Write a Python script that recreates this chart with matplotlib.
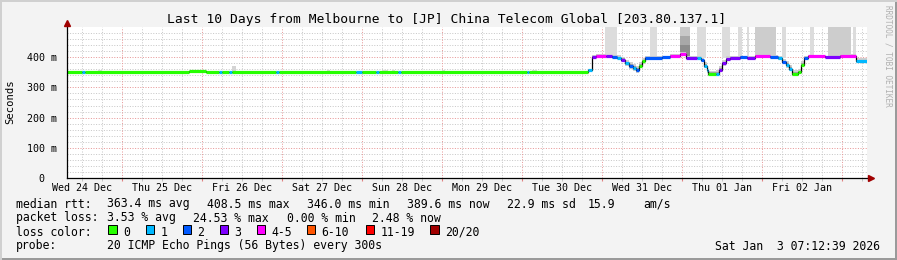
import numpy as np
import matplotlib
matplotlib.use("Agg")
import matplotlib.pyplot as plt
from matplotlib.patches import Rectangle
from matplotlib.lines import Line2D

# ---------------- data ----------------
# hours since Wed 24 Dec 00:00
seg_start = [7.5, 12.0, 12.9, 44.1, 49.2, 53.1, 54.0, 56.1, 57.0, 70.2, 71.1, 94.2, 96.0,
             100.2, 101.1, 106.8, 107.7, 145.5, 146.1, 163.8, 165.0, 166.2, 169.2, 171.0,
             172.5, 173.7, 174.9, 176.1, 177.3, 178.2, 179.1, 180.0, 180.9, 186.0, 188.4,
             191.4, 193.2, 196.5, 197.7, 198.6, 199.5, 199.8, 202.2, 203.1, 204.0, 205.2,
             206.4, 209.4, 211.5, 213.9, 218.4, 220.8, 222.0, 223.2, 224.1, 225.0, 226.8,
             227.7, 228.6, 229.8, 234.9, 239.4, 244.2]
seg_end_last = 247.5
median_ms = [350, 350, 350, 354, 350, 350, 350, 350, 350, 350, 350, 350, 350,
             350, 350, 350, 350, 350, 350, 358, 402, 405, 403, 401,
             398, 392, 380, 371, 364, 357, 372, 386, 399, 400, 403,
             409, 399, 399, 390, 372, 356, 345, 346, 358, 380, 395,
             399, 401, 399, 405, 401, 396, 384, 374, 362, 346, 350,
             375, 399, 403, 400, 405, 387]
loss_class = [0, 1, 0, 0, 0, 1, 0, 1, 0, 1, 0, 1, 0,
              1, 0, 1, 0, 1, 0, 1, 3, 4, 3, 2,
              1, 3, 1, 2, 1, 2, 0, 0, 2, 2, 4,
              4, 3, 1, 2, 1, 1, 0, 1, 3, 3, 3,
              3, 2, 3, 4, 2, 1, 2, 1, 1, 0, 0,
              0, 2, 4, 3, 4, 1]
smoke_spread = [0] * 19 + [4, 5, 5, 5, 5, 8, 10, 12, 14, 15, 14, 12, 10, 5, 4, 6,
                           8, 5, 6, 8, 12, 12, 10, 10, 12, 12, 8, 4, 4, 4, 5, 5,
                           8, 10, 12, 12, 10, 10, 12, 5, 4, 4, 4, 10]

# outlier (max rtt) smoke columns: start h, end h, low ms, high ms, shade
bar_start = [168.9, 182.4, 191.4, 191.4, 191.4, 196.5, 204.0, 208.8, 211.5, 213.9,
             222.0, 230.4, 235.8, 243.3,
             16.8, 57.0, 73.8, 85.5, 92.4, 102.0, 105.0, 111.3, 120.0, 135.0, 147.0]
bar_end = [172.5, 184.5, 194.4, 194.4, 194.4, 199.2, 206.4, 210.0, 212.1, 220.2,
           223.2, 231.6, 242.7, 244.2,
           18.0, 58.2, 74.7, 86.4, 93.3, 103.8, 105.9, 112.2, 120.9, 136.5, 148.5]
bar_lo = [404, 400, 405, 440, 470, 399, 398, 400, 400, 404,
          396, 403, 402, 404,
          350, 350, 350, 350, 350, 350, 350, 350, 350, 350, 350]
bar_hi = [620, 620, 440, 470, 620, 620, 620, 620, 620, 620,
          620, 620, 620, 620,
          356, 370, 355, 356, 355, 356, 358, 355, 357, 355, 356]
bar_shade = ['#dcdcdc', '#dcdcdc', '#8c8c8c', '#a8a8a8', '#c8c8c8', '#dcdcdc', '#dcdcdc',
             '#dcdcdc', '#dcdcdc', '#cdcdcd', '#dcdcdc', '#dcdcdc', '#cdcdcd', '#dcdcdc',
             '#dadada', '#d4d4d4', '#dadada', '#dadada', '#dadada', '#dadada', '#dadada',
             '#dadada', '#dadada', '#dadada', '#dadada']

loss_colors = ['#26ff00', '#00b8ff', '#0059ff', '#7e00ff', '#ff00ff', '#ff5500', '#ff0000', '#a10000']
loss_labels = ['0', '1', '2', '3', '4-5', '6-10', '11-19', '20/20']

day_labels = ['Wed 24 Dec', 'Thu 25 Dec', 'Fri 26 Dec', 'Sat 27 Dec', 'Sun 28 Dec',
              'Mon 29 Dec', 'Tue 30 Dec', 'Wed 31 Dec', 'Thu 01 Jan', 'Fri 02 Jan']
y_major = [0, 100, 200, 300, 400]
y_labels = ['0\u00a0\u00a0', '100 m', '200 m', '300 m', '400 m']

title = 'Last 10 Days from Melbourne to [JP] China Telecom Global [203.80.137.1]'
row1 = ['median rtt:', '363.4 ms avg', '408.5 ms max', '346.0 ms min', '389.6 ms now',
        '22.9 ms sd', '15.9', 'am/s']
row2 = ['packet loss:', '3.53 % avg', '24.53 % max', '0.00 % min', '2.48 % now']
row4 = ['probe:', '20 ICMP Echo Pings (56 Bytes) every 300s']
stamp = 'Sat Jan  3 07:12:39 2026'

# ---------------- figure ----------------
W, H = 897, 260
MONO = 'DejaVu Sans Mono'
plt.rcParams['font.family'] = MONO
fig = plt.figure(figsize=(W / 100, H / 100), dpi=100, facecolor='#f3f3f3')


def P(x, y):
    return (x / W, 1 - y / H)


ax = fig.add_axes([67 / W, 82 / H, 800 / W, 151 / H])
ax.set_facecolor('white')
ax.set_xlim(7.5, 247.5)
ax.set_ylim(0, 500)

# grid
dot = (0, (1, 1.6))
for h in np.arange(0, 250, 6):
    if h % 24:
        ax.axvline(h, color='#c8c8c8', lw=0.72, ls=dot, zorder=0.5)
for v in np.arange(20, 500, 20):
    if v % 100:
        ax.axhline(v, color='#c8c8c8', lw=0.72, ls=dot, zorder=0.5)
for h in np.arange(24, 250, 24):
    ax.axvline(h, color='#e89898', lw=0.72, ls=dot, zorder=0.6)
for v in y_major[1:]:
    ax.axhline(v, color='#e89898', lw=0.72, ls=dot, zorder=0.6)

edges = np.array(seg_start + [seg_end_last])
med = np.array(median_ms, dtype=float)
spr = np.array(smoke_spread, dtype=float)

# outlier columns
for s, e, lo, hi, c in zip(bar_start, bar_end, bar_lo, bar_hi, bar_shade):
    ax.bar(s, hi - lo, bottom=lo, width=e - s, align='edge', color=c, lw=0, zorder=1)

# smoke
ax.stairs(med + spr, edges, baseline=med - spr * 0.7, fill=True, color='#cfcfcf', lw=0, zorder=2)
ax.stairs(med + spr * 0.45, edges, baseline=med - spr * 0.35, fill=True, color='#a4a4a4', lw=0, zorder=2.1)

# median
ax.stairs(med, edges, baseline=None, color='black', lw=0.9, zorder=3)
ax.hlines(med, edges[:-1], edges[1:], colors=[loss_colors[c] for c in loss_class],
          lw=2.3, zorder=4, capstyle='butt')

# axes styling
for sp in ['top', 'right']:
    ax.spines[sp].set_visible(False)
for sp in ['left', 'bottom']:
    ax.spines[sp].set_color('black')
    ax.spines[sp].set_linewidth(0.9)
    ax.spines[sp].set_zorder(5)
ax.spines['bottom'].set_bounds(7.5, 249.0)
ax.spines['left'].set_bounds(0, 510)

ax.set_yticks(y_major)
ax.set_yticklabels(y_labels, fontsize=7.2, family=MONO)
ax.tick_params(axis='y', length=0, pad=7)
ax.set_xticks(np.arange(24, 250, 24))
ax.set_xticks(np.arange(12, 250, 6), minor=True)
ax.set_xticklabels([])
ax.tick_params(axis='x', which='major', length=2.5, color='#e08080', direction='out')
ax.tick_params(axis='x', which='minor', length=2.5, color='#bbbbbb', direction='out')

xt = ax.get_xaxis_transform()
for i, lab in enumerate(day_labels):
    ax.text(12 + 24 * i, -0.035, lab, transform=xt, ha='center', va='top', fontsize=7.2, family=MONO)

# arrows
fig.add_artist(Line2D([67 / W], [1 - 23 / H], marker='^', markersize=5, color='#a00000', lw=0))
fig.add_artist(Line2D([871 / W], [1 - 178 / H], marker='>', markersize=5, color='#a00000', lw=0))

# texts
fig.text(*P(447, 19), title, ha='center', va='center', fontsize=9.4, family=MONO)
fig.text(*P(10, 102), 'Seconds', ha='center', va='center', rotation=90, fontsize=7.6, family=MONO)
fig.text(*P(888, 5), 'RRDTOOL / TOBI OETIKER', ha='center', va='top', rotation=270,
         fontsize=5.6, color='#b0b0b0', family=MONO)

fs = 8.3


def row(y, parts, xs):
    for t, x in zip(parts, xs):
        fig.text(*P(x, y), t, ha='left', va='center', fontsize=fs, family=MONO)


row(204, row1, [16, 107, 207, 307, 407, 507, 588, 643])
row(218, row2, [16, 107, 193, 287, 372])
row(232, ['loss color:'], [16])
sw_x = [108, 145.5, 182.5, 219.5, 256.5, 306.5, 365.5, 430]
for x, c, lab in zip(sw_x, loss_colors, loss_labels):
    fig.add_artist(Rectangle(P(x, 233.5), 8.5 / W, 8.5 / H, transform=fig.transFigure,
                             facecolor=c, edgecolor='black', lw=0.7))
    fig.text(*P(x + 15, 232), lab, ha='left', va='center', fontsize=fs, family=MONO)
row(246, row4, [16, 107])
fig.text(*P(880, 246), stamp, ha='right', va='center', fontsize=fs, family=MONO)

# frame
fig.add_artist(Rectangle((1 - 2.5 / W, 0), 2.5 / W, 1, transform=fig.transFigure, color='#9a9a9a', lw=0))
fig.add_artist(Rectangle((0, 0), 1, 2.5 / H, transform=fig.transFigure, color='#9a9a9a', lw=0))
fig.add_artist(Rectangle((0, 1 - 2 / H), 1, 2 / H, transform=fig.transFigure, color='#d0d0d0', lw=0))
fig.add_artist(Rectangle((0, 0), 2 / W, 1, transform=fig.transFigure, color='#d0d0d0', lw=0))

fig.savefig('out.png', dpi=100, facecolor=fig.get_facecolor())
